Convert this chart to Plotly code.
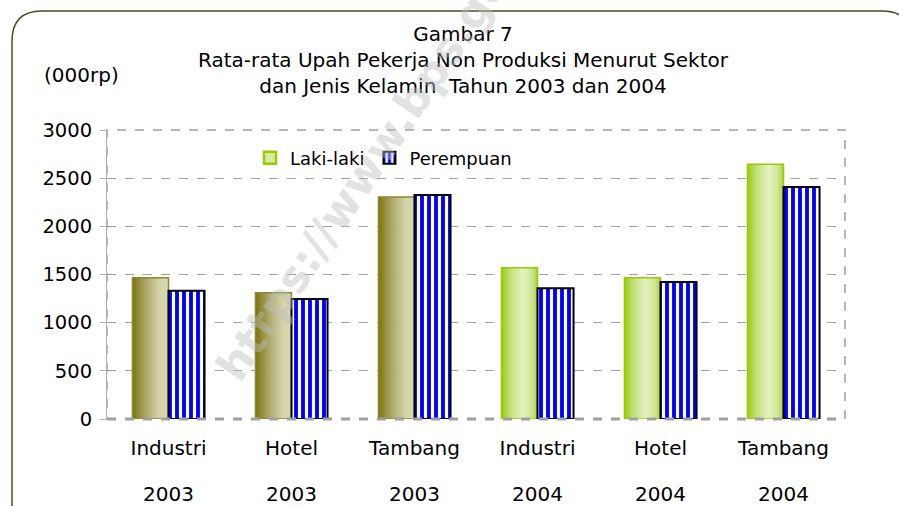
import plotly.graph_objects as go

# ---- data ----
sectors = ["Industri", "Hotel", "Tambang", "Industri", "Hotel", "Tambang"]
years = ["2003", "2003", "2003", "2004", "2004", "2004"]
laki = [1465, 1310, 2305, 1570, 1465, 2645]
perempuan = [1332, 1246, 2325, 1357, 1422, 2408]
y_ticks = [0, 500, 1000, 1500, 2000, 2500, 3000]

# ---- geometry (pixels) ----
W, H = 899, 506
L, R, T, B = 107, 845, 130, 419
def px(x):
    return (x - L) / (R - L)
def py(y):
    return (B - y) / (B - T)

FONT = "DejaVu Sans"
xs = list(range(len(sectors)))
BW = 0.293  # bar width in category units

def hex2rgb(h):
    h = h.lstrip("#")
    return tuple(int(h[i:i + 2], 16) for i in (0, 2, 4))

def grad(stops, t):
    for (t0, c0), (t1, c1) in zip(stops, stops[1:]):
        if t0 <= t <= t1:
            f = (t - t0) / (t1 - t0) if t1 > t0 else 0
            a, b = hex2rgb(c0), hex2rgb(c1)
            return "rgb(%d,%d,%d)" % tuple(round(a[i] + (b[i] - a[i]) * f) for i in range(3))
    return stops[-1][1]

olive_stops = [(0.0, "#7a720c"), (0.35, "#aaa464"), (0.75, "#d4d4a8"), (1.0, "#d8d8b2")]
green_stops = [(0.0, "#98c80c"), (0.25, "#c4e07a"), (0.6, "#e4f2c2"), (0.85, "#cfe690"), (1.0, "#a8d03c")]

fig = go.Figure()

# gradient slices for Laki-laki bars
N = 18
for k in range(N):
    t = (k + 0.5) / N
    cols = [grad(olive_stops if yr == "2003" else green_stops, t) for yr in years]
    fig.add_trace(go.Bar(
        x=xs, y=laki, width=BW / N + 0.004, offset=-BW + k * BW / N,
        marker=dict(color=cols, line=dict(width=0)),
        showlegend=False, hoverinfo="skip"))

# outline of Laki-laki bars
outline_cols = ["#8c8a2a" if yr == "2003" else "#99cc00" for yr in years]
fig.add_trace(go.Bar(
    x=xs, y=laki, width=BW, offset=-BW, name="Laki-laki",
    marker=dict(color="rgba(0,0,0,0)", line=dict(color=outline_cols, width=1.5)),
    showlegend=False))

# legend entry for Laki-laki
fig.add_trace(go.Bar(
    x=[None], y=[None], name="Laki-laki",
    marker=dict(color="#d6eba0", line=dict(color="#99cc00", width=2.5))))

# Perempuan bars (striped)
fig.add_trace(go.Bar(
    x=xs, y=perempuan, width=BW, offset=0, name="Perempuan",
    marker=dict(color="#0000ff", line=dict(color="#000000", width=2),
                pattern=dict(shape="|", fgcolor="#ffffff", bgcolor="#0000ff",
                             size=7, solidity=0.45, fillmode="replace"))))

fig.update_layout(
    width=W, height=H,
    margin=dict(l=L, r=W - R, t=T, b=H - B, pad=0),
    barmode="overlay",
    paper_bgcolor="white", plot_bgcolor="white",
    font=dict(family=FONT, size=20, color="#000000"),
    showlegend=True,
    legend=dict(orientation="h", x=px(250), y=py(158), xanchor="left", yanchor="middle",
                bgcolor="rgba(0,0,0,0)", font=dict(size=18), itemwidth=30,
                traceorder="normal"),
    xaxis=dict(range=[-0.5, len(sectors) - 0.5], tickvals=xs, ticktext=sectors,
               showgrid=False, zeroline=False, showline=False, ticks="",
               tickfont=dict(size=20), ticklabelstandoff=15),
    yaxis=dict(range=[0, 3000], tickvals=y_ticks, showgrid=True, gridcolor="#a0a0a0",
               griddash="dash", gridwidth=1, zeroline=False, showline=True,
               linecolor="#b0b0b0", linewidth=1, ticks="outside", ticklen=6,
               tickcolor="#b0b0b0", tickfont=dict(size=19.5), ticklabelstandoff=4),
)

shapes = [
    # dashed plot border
    dict(type="rect", xref="paper", yref="paper", x0=0, x1=1, y0=0, y1=1,
         line=dict(color="#a0a0a0", width=1.5, dash="dash"), layer="below"),
    dict(type="line", xref="paper", yref="paper", x0=0, x1=1, y0=0, y1=0,
         line=dict(color="#a0a0a0", width=3, dash="dash"), layer="above"),
]
# rounded outer frame
x0, y0, x1, rr = 12, 11, 912, 30
path = "M %f,%f L %f,%f Q %f,%f %f,%f L %f,%f Q %f,%f %f,%f L %f,%f" % (
    px(x0), py(520), px(x0), py(y0 + rr), px(x0), py(y0), px(x0 + rr), py(y0),
    px(x1 - rr), py(y0), px(x1), py(y0), px(x1), py(y0 + rr), px(x1), py(520))
shapes.append(dict(type="path", xref="paper", yref="paper", path=path,
                   line=dict(color="#4d4d20", width=1.5)))
fig.update_layout(shapes=shapes)

ann = []
ann.append(dict(text="Gambar 7<br>Rata-rata Upah Pekerja Non Produksi Menurut Sektor<br>dan Jenis Kelamin\u00a0 Tahun 2003 dan 2004",
                xref="paper", yref="paper", x=px(463), y=py(60), xanchor="center", yanchor="middle",
                showarrow=False, align="center", font=dict(size=20)))
ann.append(dict(text="(000rp)", xref="paper", yref="paper", x=px(81), y=py(75),
                xanchor="center", yanchor="middle", showarrow=False, font=dict(size=20)))
for xi, yr in zip(xs, years):
    ann.append(dict(text=yr, xref="x", yref="paper", x=xi, y=py(494), xanchor="center",
                    yanchor="middle", showarrow=False, font=dict(size=20)))
ann.append(dict(text="<b>https://www.bps.go.id</b>", xref="paper", yref="paper",
                x=px(380), y=py(148), xanchor="center", yanchor="middle", showarrow=False,
                textangle=-56, font=dict(size=44, color="rgba(190,190,190,0.45)")))
fig.update_layout(annotations=ann)

fig.write_html("out.html", config={"displayModeBar": False},
               post_script="document.body.style.margin='0';")
